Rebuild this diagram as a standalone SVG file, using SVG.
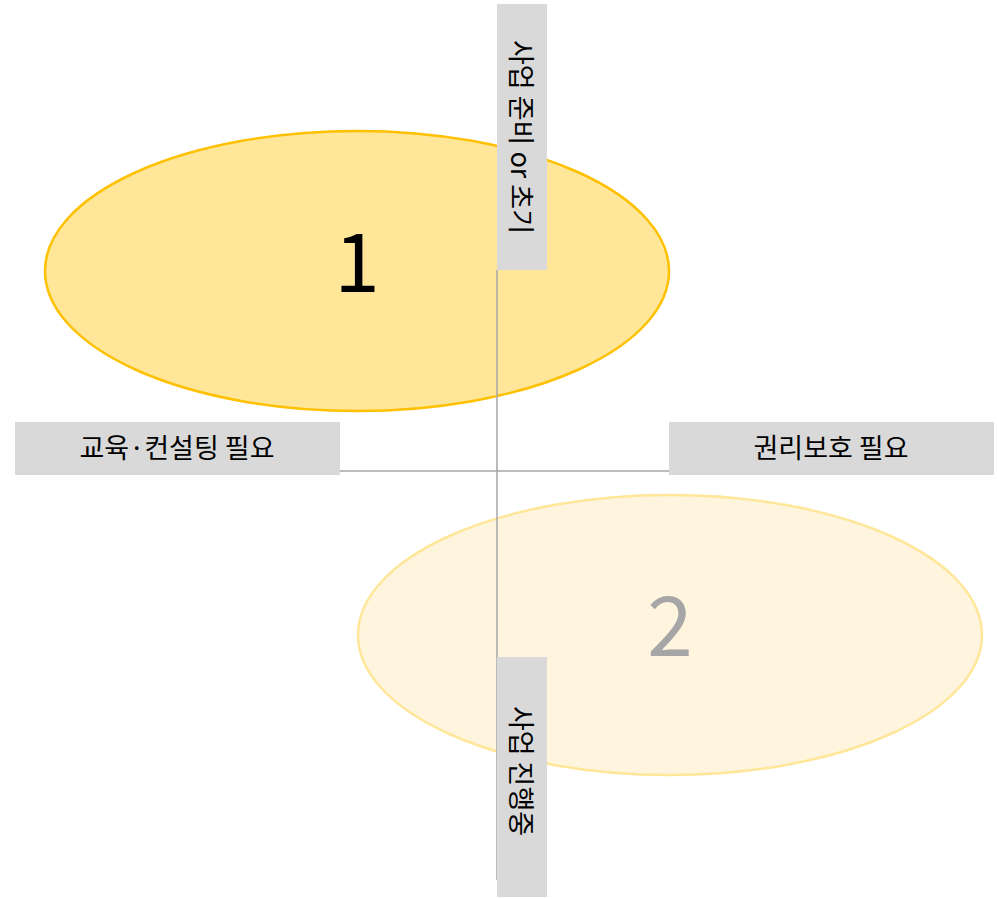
<svg xmlns="http://www.w3.org/2000/svg" width="997" height="899" viewBox="0 0 997 899">
<style>
.lbl{fill:#D9D9D9}
.t{font-family:"Noto Sans CJK KR","Noto Sans",sans-serif;font-size:27px;fill:#000;text-anchor:middle;dominant-baseline:central}
.ax{stroke:#A6A6A6;stroke-width:1.5;fill:none}
</style>
<rect width="997" height="899" fill="#fff"/>
<g id="ellipse1">
<ellipse cx="357" cy="271" rx="312" ry="140" fill="#FFE699" stroke="#FFC000" stroke-width="2.5"/>
<text x="357" y="256" font-family="Noto Sans CJK KR,Noto Sans,sans-serif" font-size="82" text-anchor="middle" dominant-baseline="central" fill="#000">1</text>
</g>
<g id="ellipse2">
<ellipse cx="670" cy="635" rx="312" ry="140" fill="#FFF5DE" stroke="#FFE699" stroke-width="2.5"/>
<text x="670" y="620" font-family="Noto Sans CJK KR,Noto Sans,sans-serif" font-size="82" text-anchor="middle" dominant-baseline="central" fill="#A6A6A6">2</text>
</g>
<g id="connectors">
<line class="ax" x1="497" y1="270" x2="497" y2="880"/>
<line class="ax" x1="340" y1="471" x2="669" y2="471"/>
</g>
<g id="top-label">
<rect class="lbl" x="497" y="4" width="50" height="266"/>
<text class="t" transform="translate(522,137) rotate(90)">사업 준비 or 초기</text>
</g>
<g id="bottom-label">
<rect class="lbl" x="497" y="657" width="50" height="240"/>
<text class="t" transform="translate(522,771) rotate(90)">사업 진행중</text>
</g>
<g id="left-label">
<rect class="lbl" x="15" y="422" width="325" height="53"/>
<text class="t" x="177" y="446">교육·컨설팅 필요</text>
</g>
<g id="right-label">
<rect class="lbl" x="669" y="422" width="325" height="53"/>
<text class="t" x="831" y="446">권리보호 필요</text>
</g>
</svg>
